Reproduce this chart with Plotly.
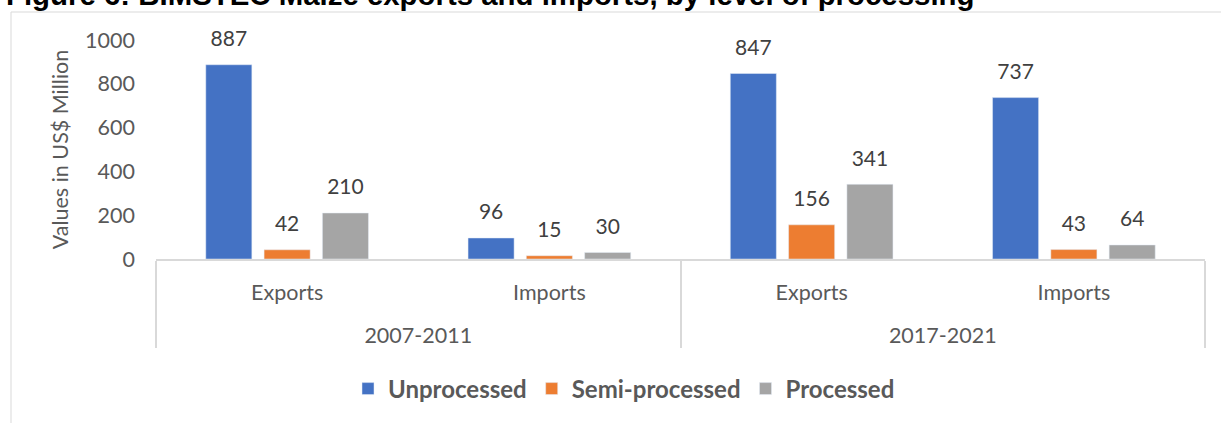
import plotly.graph_objects as go

periods = ["2007-2011", "2007-2011", "2017-2021", "2017-2021"]
flows = ["Exports", "Imports", "Exports", "Imports"]
series_names = ["Unprocessed", "Semi-processed", "Processed"]
unprocessed = [887, 96, 847, 737]
semi_processed = [42, 15, 156, 43]
processed = [210, 30, 341, 64]
colors = ["#4472C4", "#ED7D31", "#A5A5A5"]

values = [unprocessed, semi_processed, processed]
# first-level labels get an empty second line so the period row sits lower, as in the reference
flow_labels = [f + "<br>&nbsp;" for f in flows]
x = [periods, flow_labels]

FONT = "Lato"
fig = go.Figure()
for i, (name, vals) in enumerate(zip(series_names, values)):
    fig.add_trace(go.Bar(
        x=x, y=vals, name=name, marker_color=colors[i],
        offsetgroup=str(i), alignmentgroup="a",
    ))
for i, (name, vals) in enumerate(zip(series_names, values)):
    fig.add_trace(go.Scatter(
        x=x, y=vals, mode="markers+text", text=[str(v) for v in vals],
        textposition="top center",
        textfont=dict(family=FONT, size=21, color="#404040"),
        marker=dict(size=20, opacity=0),
        offsetgroup=str(i), alignmentgroup="a",
        showlegend=False, cliponaxis=False, hoverinfo="skip",
    ))

L, R, T, B = 156, 16, 40, 164
W, H = 1221, 423
pw, ph = W - L - R, H - T - B

fig.update_layout(
    width=W, height=H,
    margin=dict(l=L, r=R, t=T, b=B),
    paper_bgcolor="white", plot_bgcolor="white",
    barmode="group", bargap=0.333, bargroupgap=0.21,
    scattermode="group", scattergap=0.333,
    font=dict(family=FONT, size=21, color="#595959"),
    showlegend=True,
    legend=dict(
        orientation="h", x=(624 - L) / pw, xanchor="center",
        y=(H - B - 389) / ph, yanchor="middle",
        font=dict(family=FONT, size=24, color="#595959", weight="bold"),
        traceorder="normal",
    ),
    xaxis=dict(
        type="multicategory", showline=True, linecolor="#D9D9D9", linewidth=1.5,
        showdividers=True, dividercolor="#D9D9D9", dividerwidth=1.5,
        ticks="", showgrid=False, ticklabelstandoff=13,
        tickfont=dict(family=FONT, size=21.5, color="#595959"),
    ),
    yaxis=dict(
        range=[0, 1000], tickvals=[0, 200, 400, 600, 800, 1000],
        showgrid=False, showline=False, zeroline=False,
        ticklabelstandoff=20,
        tickfont=dict(family=FONT, size=21.5, color="#595959"),
        title=dict(text="Values in US$ Million", standoff=10,
                   font=dict(family=FONT, size=21.5, color="#595959")),
    ),
    shapes=[dict(
        type="rect", xref="paper", yref="paper",
        x0=(11 - L) / pw, x1=1.2, y0=-1.0, y1=1 + (T - 12) / ph,
        line=dict(color="#D9D9D9", width=1), fillcolor="rgba(0,0,0,0)", layer="below",
    )],
    annotations=[dict(
        text="Figure 6: BIMSTEC Maize exports and imports, by level of processing",
        xref="paper", yref="paper", x=(4 - L) / pw, xanchor="left",
        y=1 + (T - 13) / ph, yanchor="bottom", showarrow=False,
        font=dict(family="Liberation Sans, Arial", size=29.4, color="#000000", weight="bold"),
    )],
)

fig.write_html("out.html")
